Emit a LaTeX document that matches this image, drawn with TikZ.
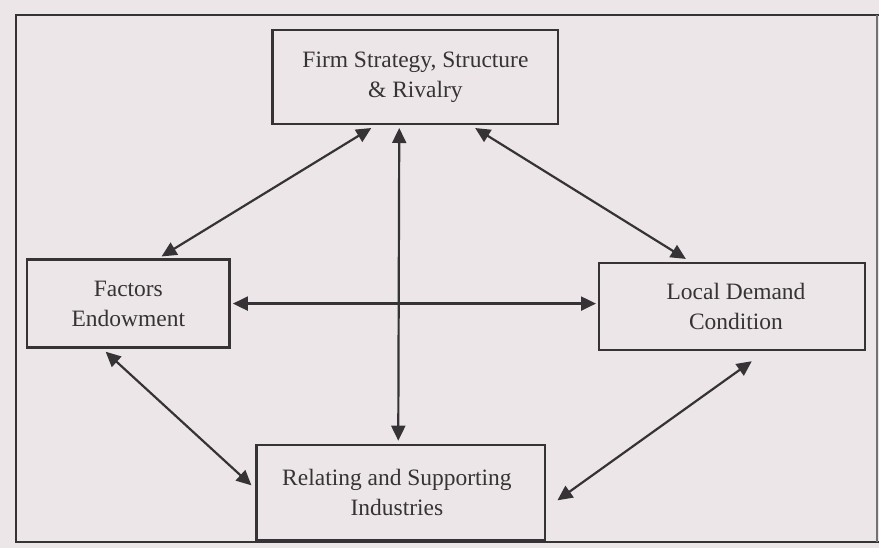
\documentclass[tikz,border=0pt]{standalone}
\usepackage{fontspec}
\setmainfont{Liberation Serif}
\usetikzlibrary{arrows.meta,calc}
\definecolor{paper}{HTML}{ECE6E9}
\definecolor{ink}{HTML}{353335}
\begin{document}
\begin{tikzpicture}[x=1pt,y=-1pt,
  factorbox/.style={draw=ink,line width=2.4pt,fill=paper,text=ink,align=center,
    font=\fontsize{23.5}{30}\selectfont,inner sep=0pt},
  link/.style={draw=ink,line width=2.2pt,
    {Triangle[length=15pt,width=14pt]}-{Triangle[length=15pt,width=14pt]}}]
  % page and outer frame
  \fill[paper] (0,0) rectangle (880,549);
  \draw[ink,line width=2.4pt] (880,15) -- (16,15) -- (16,543) -- (880,543);
  \draw[ink!70,line width=1.6pt] (878,15) -- (878,543);
  % the four determinants
  \node[factorbox,minimum width=286pt,minimum height=94pt] (firm) at (416,77)
    {Firm Strategy, Structure\\\& Rivalry};
  \node[factorbox,minimum width=203pt,minimum height=88pt] (factors) at (128.5,304)
    {Factors\\Endowment};
  \node[factorbox,minimum width=266pt,minimum height=87pt] (demand) at (733,307)
    {\hspace*{8pt}Local Demand\\\hspace*{8pt}Condition};
  \node[factorbox,minimum width=289pt,minimum height=95pt] (related) at (401.5,493)
    {Relating and Supporting\hspace*{8pt}\\Industries\hspace*{8pt}};
  % two-way links
  \draw[link] ($(firm.south west)+(100,3)$) -- ($(factors.north west)+(136,-2)$);
  \draw[link] ($(firm.south west)+(204,3)$) -- ($(demand.north west)+(88,-3)$);
  \draw[link] ($(firm.south west)+(128,3)$) -- ($(related.north west)+(143,-3)$);
  \draw[link] ($(factors.east)+(2,0)$) -- ($(demand.west |- factors.east)+(-2,0)$);
  \draw[link] ($(factors.south west)+(80,3)$) -- ($(related.west)+(-4,-7)$);
  \draw[link] ($(demand.south west)+(154,10)$) -- ($(related.east)+(11,8)$);
\end{tikzpicture}
\end{document}
